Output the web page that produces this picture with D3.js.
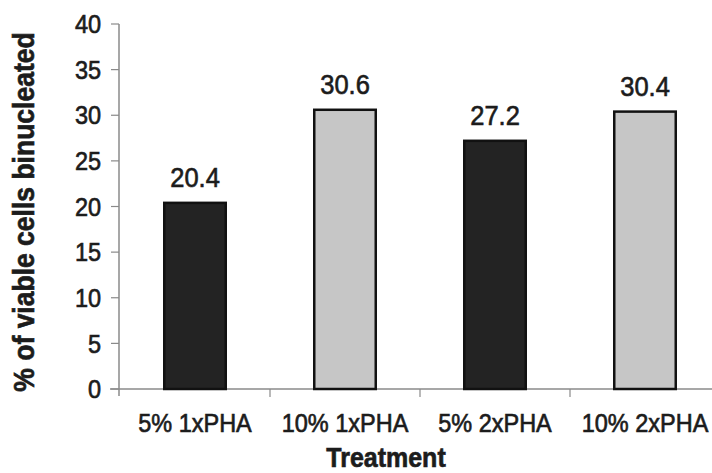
<!DOCTYPE html>
<html>
<head>
<meta charset="utf-8">
<script src="https://cdn.jsdelivr.net/npm/d3@7"></script>
<style>
  html, body { margin: 0; padding: 0; background: #fff; }
  svg { display: block; font-family: "Liberation Sans", Arial, sans-serif; }
  text { fill: #1c1c1c; stroke: #1c1c1c; stroke-width: 0.6px; }
</style>
</head>
<body>
<svg id="chart" width="712" height="473"></svg>
<script>
const categories = ["5% 1xPHA", "10% 1xPHA", "5% 2xPHA", "10% 2xPHA"];
const values = [20.4, 30.6, 27.2, 30.4];
const barGroups = ["dark", "light", "dark", "light"];
const yTicks = [0, 5, 10, 15, 20, 25, 30, 35, 40];
const yTitle = "% of viable cells binucleated";
const xTitle = "Treatment";

const svg = d3.select("#chart");
const fills = { dark: "#232323", light: "#c6c6c6" };

const x = d3.scaleBand().domain(categories).range([120, 720]).padding(0);
const y = d3.scaleLinear().domain([0, 40]).range([389, 24]);
const barW = x.bandwidth() * 0.41;

// vertically stretched text helper (reference glyphs are slightly tall)
function addText(g, tx, ty, str, size, opts = {}) {
  const t = g.append("text")
    .attr("transform", `translate(${tx},${ty})${opts.rotate ? " rotate(-90)" : ""} scale(1,1.08)`)
    .attr("text-anchor", opts.anchor || "middle")
    .attr("font-size", size)
    .attr("font-weight", opts.bold ? "bold" : "normal")
    .text(str);
  if (opts.dy) t.attr("dy", opts.dy);
  return t;
}

// axes lines
const axisColor = "#8a8a8a";
svg.append("line").attr("x1", 110).attr("x2", 712).attr("y1", y(0)).attr("y2", y(0))
  .attr("stroke", axisColor).attr("stroke-width", 1.5);
svg.append("line").attr("x1", 119).attr("x2", 119).attr("y1", y(40)).attr("y2", y(0) + 7)
  .attr("stroke", axisColor).attr("stroke-width", 1.5);

// y ticks
const yt = svg.append("g");
yTicks.forEach(t => {
  yt.append("line").attr("x1", 111).attr("x2", 119).attr("y1", y(t)).attr("y2", y(t))
    .attr("stroke", axisColor).attr("stroke-width", 1.2);
  addText(yt, 101, y(t), t, 23.5, { anchor: "end", dy: "0.36em" });
});

// x ticks at band boundaries
categories.forEach((c, i) => {
  if (i > 0) {
    svg.append("line").attr("x1", x(c)).attr("x2", x(c)).attr("y1", y(0)).attr("y2", y(0) + 8)
      .attr("stroke", axisColor).attr("stroke-width", 1.2);
  }
});

// bars
categories.forEach((c, i) => {
  const cx = x(c) + x.bandwidth() / 2;
  svg.append("rect")
    .attr("x", cx - barW / 2).attr("y", y(values[i]))
    .attr("width", barW).attr("height", y(0) - y(values[i]))
    .attr("fill", fills[barGroups[i]])
    .attr("stroke", "#111").attr("stroke-width", 2.5);
  addText(svg, cx, y(values[i]) - 16, values[i].toFixed(1), 25.5);
  addText(svg, cx, 432, c, 23.5);
});

// titles
addText(svg, 386, 467, xTitle, 25, { bold: true });
addText(svg, 34, 212, yTitle, 26.5, { bold: true, rotate: true });
</script>
</body>
</html>
